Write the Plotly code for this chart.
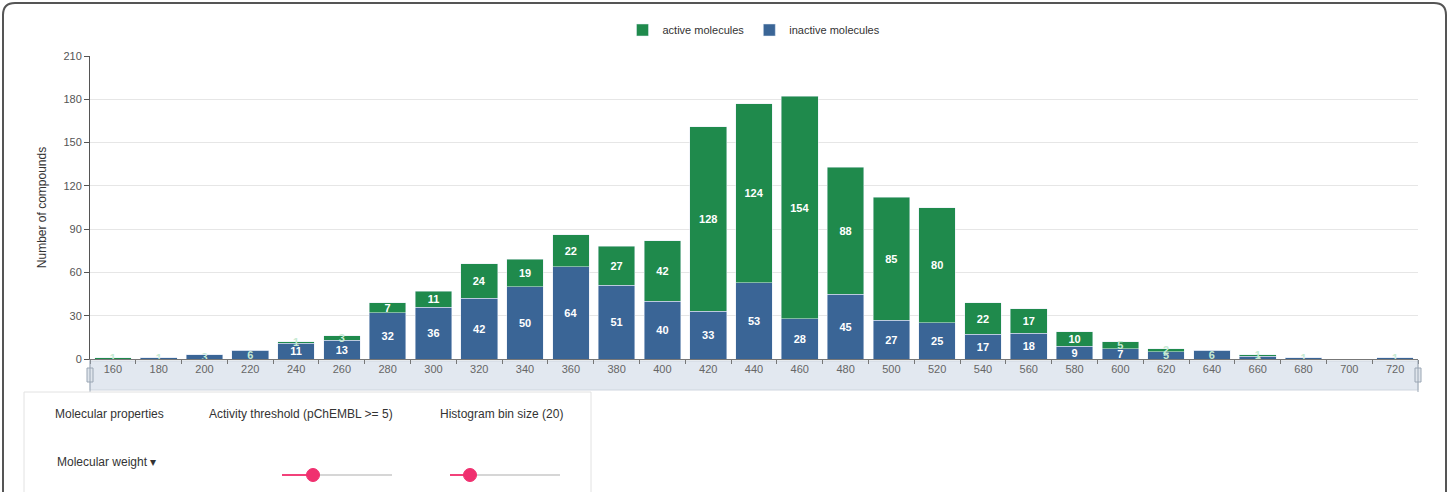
import plotly.graph_objects as go

bins = [160, 180, 200, 220, 240, 260, 280, 300, 320, 340, 360, 380, 400, 420, 440,
        460, 480, 500, 520, 540, 560, 580, 600, 620, 640, 660, 680, 700, 720]
inactive = [0, 1, 3, 6, 11, 13, 32, 36, 42, 50, 64, 51, 40, 33, 53,
            28, 45, 27, 25, 17, 18, 9, 7, 5, 6, 2, 1, 0, 1]
active = [1, 0, 0, 0, 1, 3, 7, 11, 24, 19, 22, 27, 42, 128, 124,
          154, 88, 85, 80, 22, 17, 10, 5, 2, 0, 1, 0, 0, 0]
y_ticks = [0, 30, 60, 90, 120, 150, 180, 210]

GREEN = "#1f8a4c"
BLUE = "#3a6596"
FONT = "Liberation Sans, Arial, sans-serif"

W, H = 1449, 492
L, R, T, B = 90, 31, 56, 133
PW, PH = W - L - R, H - T - B

def px(x):
    return (x - L) / PW

def py(y):
    return (H - B - y) / PH

cats = [str(b) for b in bins]

def labels(vals):
    return [str(v) if v else "" for v in vals]

def colors(vals):
    return ["white" if v >= 7 else "#c6ead2" for v in vals]

fig = go.Figure()
for name, vals, col, rank in (("inactive molecules", inactive, BLUE, 2),
                              ("active molecules", active, GREEN, 1)):
    fig.add_trace(go.Bar(
        name=name, x=cats, y=vals, marker_color=col,
        text=labels(vals), textposition="inside",
        insidetextanchor="middle", textangle=0,
        insidetextfont=dict(color=colors(vals), size=11, family=FONT, weight="bold"),
        legendrank=rank,
    ))

shapes = []
# data zoom band under the x axis
shapes.append(dict(type="rect", xref="paper", yref="paper",
                   x0=px(90), x1=px(1418), y0=py(390), y1=py(361),
                   fillcolor="#e2e8f0", line=dict(color="#cfd6df", width=1), layer="below"))
for hx in (90, 1418):
    shapes.append(dict(type="rect", xref="paper", yref="paper",
                       x0=px(hx - 3), x1=px(hx + 3), y0=py(382), y1=py(368),
                       fillcolor="#dfe5ec", line=dict(color="#9aa6b4", width=1)))
    shapes.append(dict(type="line", xref="paper", yref="paper",
                       x0=px(hx), x1=px(hx), y0=py(392), y1=py(360),
                       line=dict(color="#9aa6b4", width=1)))
# outer rounded frame
r = 12
x0f, x1f, y0f = 3, 1446, 3
path = (f"M {px(x0f)},{py(H + 5)} L {px(x0f)},{py(y0f + r)} "
        f"Q {px(x0f)},{py(y0f)} {px(x0f + r)},{py(y0f)} "
        f"L {px(x1f - r)},{py(y0f)} Q {px(x1f)},{py(y0f)} {px(x1f)},{py(y0f + r)} "
        f"L {px(x1f)},{py(H + 5)}")
shapes.append(dict(type="path", xref="paper", yref="paper", path=path,
                   line=dict(color="#555555", width=2)))
# control panel
shapes.append(dict(type="rect", xref="paper", yref="paper",
                   x0=px(24), x1=px(591), y0=py(H + 5), y1=py(392),
                   fillcolor="white", line=dict(color="#e2e2e2", width=1)))
# sliders
for (s0, knob, s1) in ((282, 313, 392), (450, 470, 560)):
    shapes.append(dict(type="line", xref="paper", yref="paper",
                       x0=px(s0), x1=px(s1), y0=py(475), y1=py(475),
                       line=dict(color="#d6d6d6", width=2)))
    shapes.append(dict(type="line", xref="paper", yref="paper",
                       x0=px(s0), x1=px(knob), y0=py(475), y1=py(475),
                       line=dict(color="#f2417a", width=2)))
    shapes.append(dict(type="circle", xref="paper", yref="paper",
                       x0=px(knob - 6.5), x1=px(knob + 6.5), y0=py(481.5), y1=py(468.5),
                       fillcolor="#f0306f", line=dict(color="#f0306f", width=1)))

annotations = []
for txt, xc, yc in (("Molecular properties", 109, 414),
                    ("Activity threshold (pChEMBL >= 5)", 301, 414),
                    ("Histogram bin size (20)", 501, 414),
                    ("Molecular weight ▾", 106, 462)):
    annotations.append(dict(text=txt, x=px(xc), y=py(yc), xref="paper", yref="paper",
                            showarrow=False, xanchor="center", yanchor="middle",
                            font=dict(family=FONT, size=12, color="#333333")))

fig.update_layout(
    width=W, height=H, autosize=False,
    margin=dict(l=L, r=R, t=T, b=B),
    barmode="stack", bargap=0.2,
    uniformtext=dict(minsize=10, mode="show"),
    plot_bgcolor="white", paper_bgcolor="white",
    font=dict(family=FONT, size=11, color="#555555"),
    legend=dict(orientation="h", x=0.5, xanchor="center", y=py(30), yanchor="middle",
                font=dict(size=11, color="#333333"), itemwidth=30,
                traceorder="normal"),
    shapes=shapes, annotations=annotations,
    xaxis=dict(type="category", tickson="boundaries", ticks="outside", ticklen=4,
               tickcolor="#777777", showline=True, linecolor="#777777", linewidth=1,
               showgrid=False, tickfont=dict(size=11, color="#666666"),
               range=[-0.5, len(bins) - 0.5]),
    yaxis=dict(range=[0, 210], tickvals=y_ticks, ticks="outside", ticklen=5,
               tickcolor="#555555", showline=True, linecolor="#555555", linewidth=1,
               gridcolor="#e6e6e6", zeroline=False,
               title=dict(text="Number of compounds", standoff=14,
                          font=dict(size=12, color="#333333")),
               tickfont=dict(size=11, color="#555555")),
)

fig.write_html("out.html")
